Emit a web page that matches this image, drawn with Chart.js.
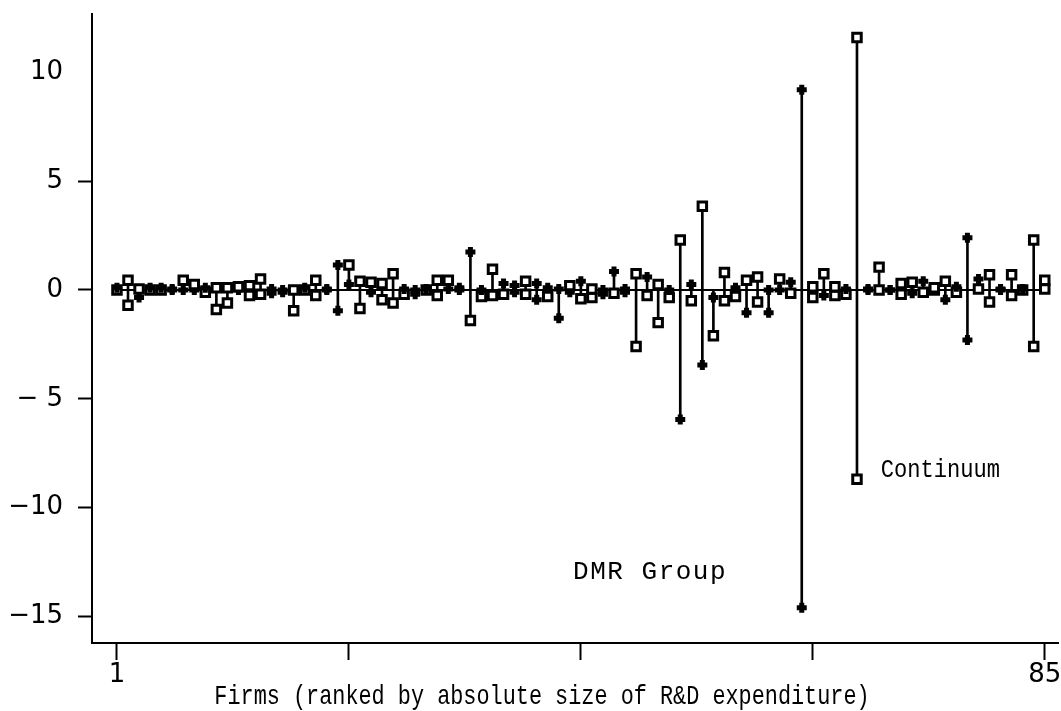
<!DOCTYPE html>
<html>
<head>
<meta charset="utf-8">
<script src="https://cdn.jsdelivr.net/npm/chart.js@4"></script>
<style>
  html, body { margin: 0; padding: 0; background: #fff; overflow: hidden; }
  #spikeChart { display: block; }
</style>
</head>
<body>
<canvas id="spikeChart" width="1061" height="711"></canvas>
<script>
// Firms ranked 1..85, upper and lower values
const firms = [
  1, 2, 3, 4, 5, 6, 7, 8, 9, 10, 11, 12, 13, 14, 15, 16, 17, 18, 19, 20,
  21, 22, 23, 24, 25, 26, 27, 28, 29, 30, 31, 32, 33, 34, 35, 36, 37, 38, 39, 40,
  41, 42, 43, 44, 45, 46, 47, 48, 49, 50, 51, 52, 53, 54, 55, 56, 57, 58, 59, 60,
  61, 62, 63, 64, 65, 66, 67, 68, 69, 70, 71, 72, 73, 74, 75, 76, 77, 78, 79, 80,
  81, 82, 83, 84, 85
];
const upper = [
  0.1, 0.45, 0.05, 0.1, 0.1, 0.05, 0.45, 0.25, 0.1, 0.1,
  0.1, 0.15, 0.2, 0.5, 0.05, 0.0, 0.0, 0.1, 0.45, 0.05,
  1.15, 1.15, 0.4, 0.35, 0.3, 0.75, 0.05, 0.0, 0.05, 0.45,
  0.45, 0.1, 1.75, 0.0, 0.95, 0.3, 0.2, 0.4, 0.3, 0.1,
  0.05, 0.2, 0.4, 0.05, 0.0, 0.85, 0.05, 0.75, 0.6, 0.25,
  0.0, 2.3, 0.25, 3.85, -0.35, 0.8, 0.1, 0.45, 0.6, 0.0,
  0.5, 0.35, 9.2, 0.15, 0.75, 0.15, 0.05, 11.6, 0.05, 1.05,
  0.0, 0.3, 0.35, 0.4, 0.1, 0.4, 0.15, 2.4, 0.5, 0.7,
  0.05, 0.7, 0.05, 2.3, 0.45
];
const lower = [
  0.0, -0.7, -0.35, 0.0, 0.0, 0.0, 0.0, 0.0, -0.1, -0.9,
  -0.6, 0.0, -0.25, -0.2, -0.15, -0.1, -0.95, 0.0, -0.25, 0.0,
  -0.95, 0.25, -0.85, -0.1, -0.45, -0.6, -0.2, -0.2, 0.0, -0.25,
  0.05, 0.0, -1.4, -0.3, -0.25, -0.2, -0.1, -0.2, -0.45, -0.3,
  -1.3, -0.1, -0.4, -0.35, -0.2, -0.15, -0.1, -2.6, -0.25, -1.5,
  -0.35, -5.95, -0.5, -3.45, -2.1, -0.5, -0.3, -1.05, -0.55, -1.05,
  0.0, -0.15, -14.6, -0.35, -0.25, -0.25, -0.2, -8.7, 0.0, 0.0,
  0.0, -0.2, -0.15, -0.1, 0.0, -0.45, -0.1, -2.3, 0.05, -0.55,
  0.0, -0.25, 0.0, -2.6, 0.05
];
// marker kind per firm: p = filled plus, s = hollow square
const upperMarks = ('psspppssps' + 'ssssppspsp' + 'psssssppps' + 'spppsppspp' +
  'pspspppsps' + 'pspspspssp' + 'sppssspsps' + 'psspssppps' + 'pspss').split('');
const lowerMarks = ('sspsspppss' + 'spssppsssp' + 'ppspssspss' + 'ppsssspsps' +
  'ppsspspsss' + 'spspssspsp' + 'pspspsssps' + 'pspsspspss' + 'pssss').split('');

const yTickValues = [-15, -10, -5, 0, 5, 10];
const yTickLabels = ['\u221215', '\u221210', '\u2212 5', '0', '5', '10'];
const xTickValues = [1, 22, 43, 64, 85];
const xTickLabels = ['1', '', '', '', '85'];
const axisTitle = 'Firms (ranked by absolute size of R&D expenditure)';
const noteLabels = ['DMR Group', 'Continuum'];

const spikes = firms.map((f, i) => ({
  x: f,
  y: [Math.min(lower[i], upper[i], 0), Math.max(lower[i], upper[i], 0)],
}));
const upperPts = firms.map((f, i) => ({ x: f, y: upper[i] }));
const lowerPts = firms.map((f, i) => ({ x: f, y: lower[i] }));

function markerSet(label, pts, marks) {
  const kind = (c) => marks[c.dataIndex] || 's';
  return {
    type: 'scatter',
    label,
    data: pts,
    order: 1,
    pointStyle: (c) => (kind(c) === 'p' ? 'cross' : 'rect'),
    pointRadius: (c) => (kind(c) === 'p' ? 5 : 6),
    pointBorderWidth: (c) => (kind(c) === 'p' ? 5 : 3),
    pointBorderColor: '#000',
    pointBackgroundColor: '#fff',
    pointHoverRadius: 0,
  };
}

// the point overflow padding keeps the plot 8px short on the right; stretch the x axis back
const stretchPlugin = {
  id: 'stretchX',
  afterLayout(chart) {
    const xs = chart.scales.x;
    const target = chart.width - 3;
    if (xs.right !== target) {
      xs.right = target;
      xs.width = target - xs.left;
      chart.chartArea.right = target;
      chart.chartArea.width = target - chart.chartArea.left;
      xs.configure();
    }
  },
};

// text drawn on the canvas: axis title and the two firm notes
const textPlugin = {
  id: 'texts',
  afterDraw(chart) {
    const ctx = chart.ctx;
    const xs = chart.scales.x, ys = chart.scales.y;
    ctx.save();
    ctx.fillStyle = '#000';
    ctx.textBaseline = 'middle';

    // x axis title (condensed)
    ctx.save();
    ctx.font = '28px "Liberation Mono"';
    ctx.translate(542, 697);
    ctx.scale(0.78, 1);
    ctx.textAlign = 'center';
    ctx.fillText(axisTitle, 0, 0);
    ctx.restore();

    // DMR Group
    ctx.save();
    ctx.font = '26px "Liberation Mono"';
    ctx.textAlign = 'left';
    ctx.letterSpacing = '1.5px';
    ctx.fillText(noteLabels[0], xs.getPixelForValue(42.3), ys.getPixelForValue(-12.95));
    ctx.restore();

    // Continuum
    ctx.save();
    ctx.font = '26px "Liberation Mono"';
    ctx.translate(xs.getPixelForValue(70.15), ys.getPixelForValue(-8.27));
    ctx.scale(0.85, 1);
    ctx.textAlign = 'left';
    ctx.fillText(noteLabels[1], 0, 0);
    ctx.restore();

    ctx.restore();
  },
};

const tickFont = { family: 'DejaVu Sans', size: 26 };

new Chart(document.getElementById('spikeChart'), {
  type: 'scatter',
  data: {
    datasets: [
      {
        type: 'bar',
        label: 'spikes',
        data: spikes,
        order: 3,
        barThickness: 2,
        backgroundColor: '#000',
        borderWidth: 0,
      },
      {
        type: 'line',
        label: 'zero',
        data: [{ x: firms[0], y: 0 }, { x: firms[firms.length - 1], y: 0 }],
        order: 2,
        borderColor: '#000',
        borderWidth: 2,
        pointRadius: 0,
      },
      markerSet('upper', upperPts, upperMarks),
      markerSet('lower', lowerPts, lowerMarks),
    ],
  },
  options: {
    responsive: false,
    animation: false,
    layout: { padding: { top: 14, right: 3, left: 0, bottom: 0 } },
    plugins: { legend: { display: false }, tooltip: { enabled: false } },
    scales: {
      x: {
        type: 'linear',
        min: -1.26,
        max: 86.2,
        offset: false,
        afterBuildTicks: (s) => { s.ticks = xTickValues.map((v) => ({ value: v })); },
        afterFit: (s) => { s.height = 68; s.paddingLeft = 0; s.paddingRight = 0; },
        border: { color: '#000', width: 2 },
        grid: { offset: false, drawOnChartArea: false, drawTicks: true, tickLength: 17, tickWidth: 2, tickColor: '#000' },
        ticks: {
          color: '#000',
          font: tickFont,
          padding: 0,
          maxRotation: 0,
          autoSkip: false,
          callback: (v) => xTickLabels[xTickValues.indexOf(v)] || '',
        },
      },
      y: {
        type: 'linear',
        min: -16.22,
        max: 12.68,
        afterBuildTicks: (s) => { s.ticks = yTickValues.map((v) => ({ value: v })); },
        afterFit: (s) => { s.width = 92; s.paddingTop = 0; s.paddingBottom = 0; },
        border: { color: '#000', width: 2 },
        grid: {
          drawOnChartArea: false,
          drawTicks: true,
          tickLength: 14,
          tickWidth: 2,
          tickColor: (c) => (c.tick && c.tick.value === 10 ? 'rgba(0,0,0,0)' : '#000'),
        },
        ticks: {
          color: '#000',
          font: tickFont,
          padding: 15,
          autoSkip: false,
          callback: (v) => yTickLabels[yTickValues.indexOf(v)] || '',
        },
      },
    },
  },
  plugins: [stretchPlugin, textPlugin],
});
</script>
</body>
</html>
